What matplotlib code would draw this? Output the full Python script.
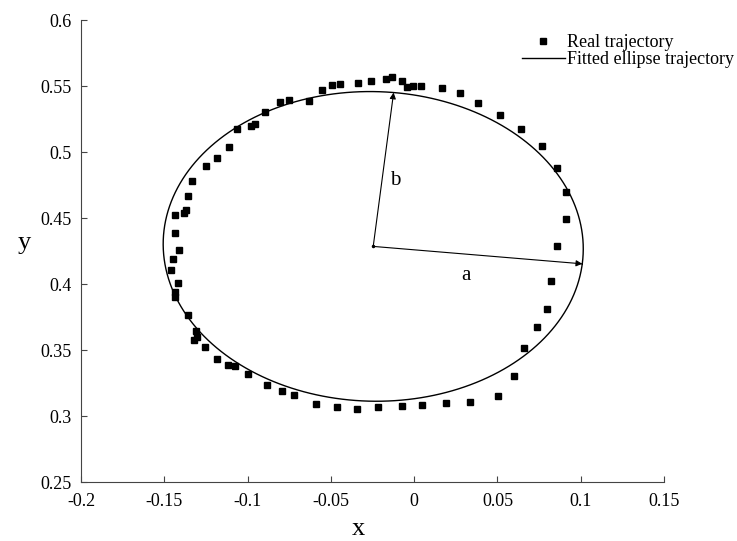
import numpy as np
import matplotlib
matplotlib.use('Agg')
import matplotlib.pyplot as plt

plt.rcParams['font.family'] = ['Liberation Serif', 'DejaVu Serif']

real_x = [-0.0168, -0.0132, -0.0072, -0.0042, -0.0006, 0.0042, 0.0168, 0.0276, 0.0384, 0.0516,
          0.0642, 0.0768, 0.0858, 0.0912, 0.0912, 0.0858, 0.0822, 0.0798, 0.0738, 0.0660,
          0.0600, 0.0504, 0.0336, 0.0192, 0.0048, -0.0072, -0.0216, -0.0342, -0.0462, -0.0588,
          -0.0720, -0.0792, -0.0882, -0.0996, -0.1074, -0.1116, -0.1182, -0.1254, -0.1320, -0.1302,
          -0.1308, -0.1356, -0.1434, -0.1434, -0.1416, -0.1458, -0.1446, -0.1410, -0.1434, -0.1434,
          -0.1380, -0.1368, -0.1356, -0.1332, -0.1248, -0.1182, -0.1110, -0.1062, -0.0978, -0.0954,
          -0.0894, -0.0804, -0.0750, -0.0630, -0.0552, -0.0492, -0.0444, -0.0336, -0.0258]
real_y = [0.5553, 0.5568, 0.5538, 0.5492, 0.5500, 0.5500, 0.5485, 0.5447, 0.5371, 0.5280,
          0.5174, 0.5045, 0.4879, 0.4697, 0.4492, 0.4288, 0.4023, 0.3811, 0.3674, 0.3515,
          0.3303, 0.3152, 0.3106, 0.3098, 0.3083, 0.3076, 0.3068, 0.3053, 0.3068, 0.3091,
          0.3159, 0.3189, 0.3235, 0.3318, 0.3379, 0.3386, 0.3432, 0.3523, 0.3576, 0.3598,
          0.3644, 0.3765, 0.3902, 0.3939, 0.4008, 0.4106, 0.4189, 0.4258, 0.4386, 0.4523,
          0.4538, 0.4561, 0.4667, 0.4780, 0.4894, 0.4955, 0.5038, 0.5174, 0.5197, 0.5212,
          0.5303, 0.5379, 0.5394, 0.5386, 0.5470, 0.5508, 0.5515, 0.5523, 0.5538]

# fitted ellipse parameters
center = (-0.0246, 0.4285)
semi_a = 0.1262
semi_b = 0.1172
angle_deg = -6.0

xticks = [-0.2, -0.15, -0.1, -0.05, 0, 0.05, 0.1, 0.15]
yticks = [0.25, 0.3, 0.35, 0.4, 0.45, 0.5, 0.55, 0.6]

th = np.deg2rad(angle_deg)
t = np.linspace(0, 2 * np.pi, 400)
ell_x = center[0] + semi_a * np.cos(th) * np.cos(t) - semi_b * np.sin(th) * np.sin(t)
ell_y = center[1] + semi_a * np.sin(th) * np.cos(t) + semi_b * np.cos(th) * np.sin(t)

fig = plt.figure(figsize=(7.37, 5.41), dpi=100)
ax = fig.add_axes([0.110, 0.109, 0.791, 0.854])

ax.plot(real_x, real_y, 's', color='black', markersize=5, label='Real trajectory')
ax.plot(ell_x, ell_y, '-', color='black', lw=1.0, label='Fitted ellipse trajectory')

# semi-axes arrows
a_end = (center[0] + semi_a * np.cos(th), center[1] + semi_a * np.sin(th))
b_end = (center[0] - semi_b * np.sin(th), center[1] + semi_b * np.cos(th))
for end in (a_end, b_end):
    ax.annotate('', xy=end, xytext=center,
                arrowprops=dict(arrowstyle='-|>', lw=0.8, color='black',
                                mutation_scale=9, shrinkA=0, shrinkB=0))
ax.plot(center[0], center[1], 'o', color='black', markersize=1.5)
ax.text(0.0312, 0.4068, 'a', fontsize=15, ha='center', va='center')
ax.text(-0.0114, 0.4788, 'b', fontsize=15, ha='center', va='center')

ax.set_xlim(-0.2, 0.15)
ax.set_ylim(0.25, 0.6)
ax.set_xticks(xticks)
ax.set_yticks(yticks)
ax.set_xticklabels(['-0.2', '-0.15', '-0.1', '-0.05', '0', '0.05', '0.1', '0.15'])
ax.set_yticklabels(['0.25', '0.3', '0.35', '0.4', '0.45', '0.5', '0.55', '0.6'])
ax.tick_params(direction='in', labelsize=13, length=4, color='#444444')
ax.tick_params(axis='x', pad=8)
ax.tick_params(axis='y', pad=7)
for s in ('top', 'right'):
    ax.spines[s].set_visible(False)
for s in ('left', 'bottom'):
    ax.spines[s].set_color('#444444')

ax.set_xlabel('x', fontsize=19, va='baseline')
ax.set_ylabel('y', fontsize=19, rotation=0, va='center')
ax.xaxis.set_label_coords(0.475, -0.115)
ax.yaxis.set_label_coords(-0.098, 0.518)

fig.legend(loc='upper right', bbox_to_anchor=(0.998, 0.94), frameon=False, fontsize=13,
           handlelength=2.4, handletextpad=0.1, labelspacing=0.0, borderaxespad=0.0,
           borderpad=0.1)

fig.savefig('out.png', dpi=100)
